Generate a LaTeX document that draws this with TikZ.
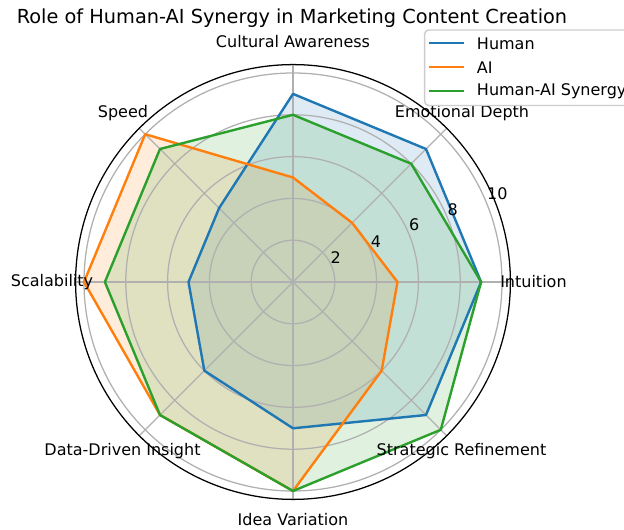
\documentclass[tikz,border=0pt]{standalone}
\usepackage{fontspec}
\setmainfont{DejaVu Sans}
\usetikzlibrary{calc}
\definecolor{human}{HTML}{1F77B4}
\definecolor{ai}{HTML}{FF7F0E}
\definecolor{synergy}{HTML}{2CA02C}
\definecolor{gridgray}{HTML}{B0B0B0}
\definecolor{legendedge}{HTML}{CCCCCC}
\newcommand{\rd}{20.9}

\begin{document}
\begin{tikzpicture}[x=0.75pt,y=0.75pt,
    gridline/.style={draw=gridgray,line width=0.95pt},
    seriesfill/.style={fill=#1,fill opacity=0.15},
    seriesline/.style={draw=#1,line width=1.8pt,line join=round},
    catlabel/.style={font=\fontsize{12}{14}\selectfont,inner sep=0pt},
    ticklabel/.style={font=\fontsize{12}{14}\selectfont,inner sep=0pt}]
    \useasboundingbox (-293,-248) rectangle (331,282);
    \clip (-293,-248) rectangle (331,282);
    % series outlines, kept as paths
    \def\humanpath{(0:{9*\rd}) -- (45:{9*\rd}) -- (90:{9*\rd}) -- (135:{5*\rd})
        -- (180:{5*\rd}) -- (225:{6*\rd}) -- (270:{7*\rd}) -- (315:{9*\rd}) -- cycle}
    \def\aipath{(0:{5*\rd}) -- (45:{4*\rd}) -- (90:{5*\rd}) -- (135:{10*\rd})
        -- (180:{10*\rd}) -- (225:{9*\rd}) -- (270:{10*\rd}) -- (315:{6*\rd}) -- cycle}
    \def\synergypath{(0:{9*\rd}) -- (45:{8*\rd}) -- (90:{8*\rd}) -- (135:{9*\rd})
        -- (180:{9*\rd}) -- (225:{9*\rd}) -- (270:{10*\rd}) -- (315:{10*\rd}) -- cycle}
    % fills under the grid
    \fill[seriesfill=human] \humanpath;
    \fill[seriesfill=ai] \aipath;
    \fill[seriesfill=synergy] \synergypath;
    % grid
    \foreach \v in {2,4,...,10} \draw[gridline] (0,0) circle ({\v*\rd});
    \foreach \a in {0,45,...,315} \draw[gridline] (0,0) -- (\a:217.4);
    % lines over the grid
    \draw[seriesline=human] \humanpath;
    \draw[seriesline=ai] \aipath;
    \draw[seriesline=synergy] \synergypath;
    \draw[black,line width=0.95pt] (0,0) circle (217.4);
    % radial ticks
    \node[ticklabel] (t2) at (42.7,24.3) {2};
    \node[ticklabel] (t4) at (83,40.3) {4};
    \node[ticklabel] (t6) at (121.3,57) {6};
    \node[ticklabel] (t8) at (159.7,72.7) {8};
    \node[ticklabel] (t10) at (204.3,88) {10};
    % categories
    \node[catlabel,anchor=west] (intuition) at (207,0) {Intuition};
    \node[catlabel] (emotional) at (169,169.3) {Emotional Depth};
    \node[catlabel] (cultural) at (0,240) {Cultural Awareness};
    \node[catlabel] (speed) at (-170,169.3) {Speed};
    \node[catlabel] (scalability) at (-241,0) {Scalability};
    \node[catlabel] (datadriven) at (-170.5,-168.7) {Data-Driven Insight};
    \node[catlabel] (idea) at (0,-238) {Idea Variation};
    \node[catlabel] (strategic) at (168.5,-168.7) {Strategic Refinement};
    % title
    \node[font=\fontsize{14.5}{17}\selectfont,inner sep=0pt] (title) at (-1,264) {Role of Human-AI Synergy in Marketing Content Creation};
    % legend
    \draw[legendedge,fill=white,fill opacity=0.8,line width=1.1pt,rounded corners=3pt] (131.7,176.5) rectangle (345,252);
    \draw[human,line width=1.8pt] (136,238.7) -- (171,238.7);
    \draw[ai,line width=1.8pt] (136,214.7) -- (171,214.7);
    \draw[synergy,line width=1.8pt] (136,191) -- (171,191);
    \node[catlabel,anchor=west] (legHuman) at (183.7,238.7) {Human};
    \node[catlabel,anchor=west] (legAI) at (183.7,214.7) {AI};
    \node[catlabel,anchor=west] (legSynergy) at (183.7,191) {Human-AI Synergy};
\end{tikzpicture}
\end{document}
